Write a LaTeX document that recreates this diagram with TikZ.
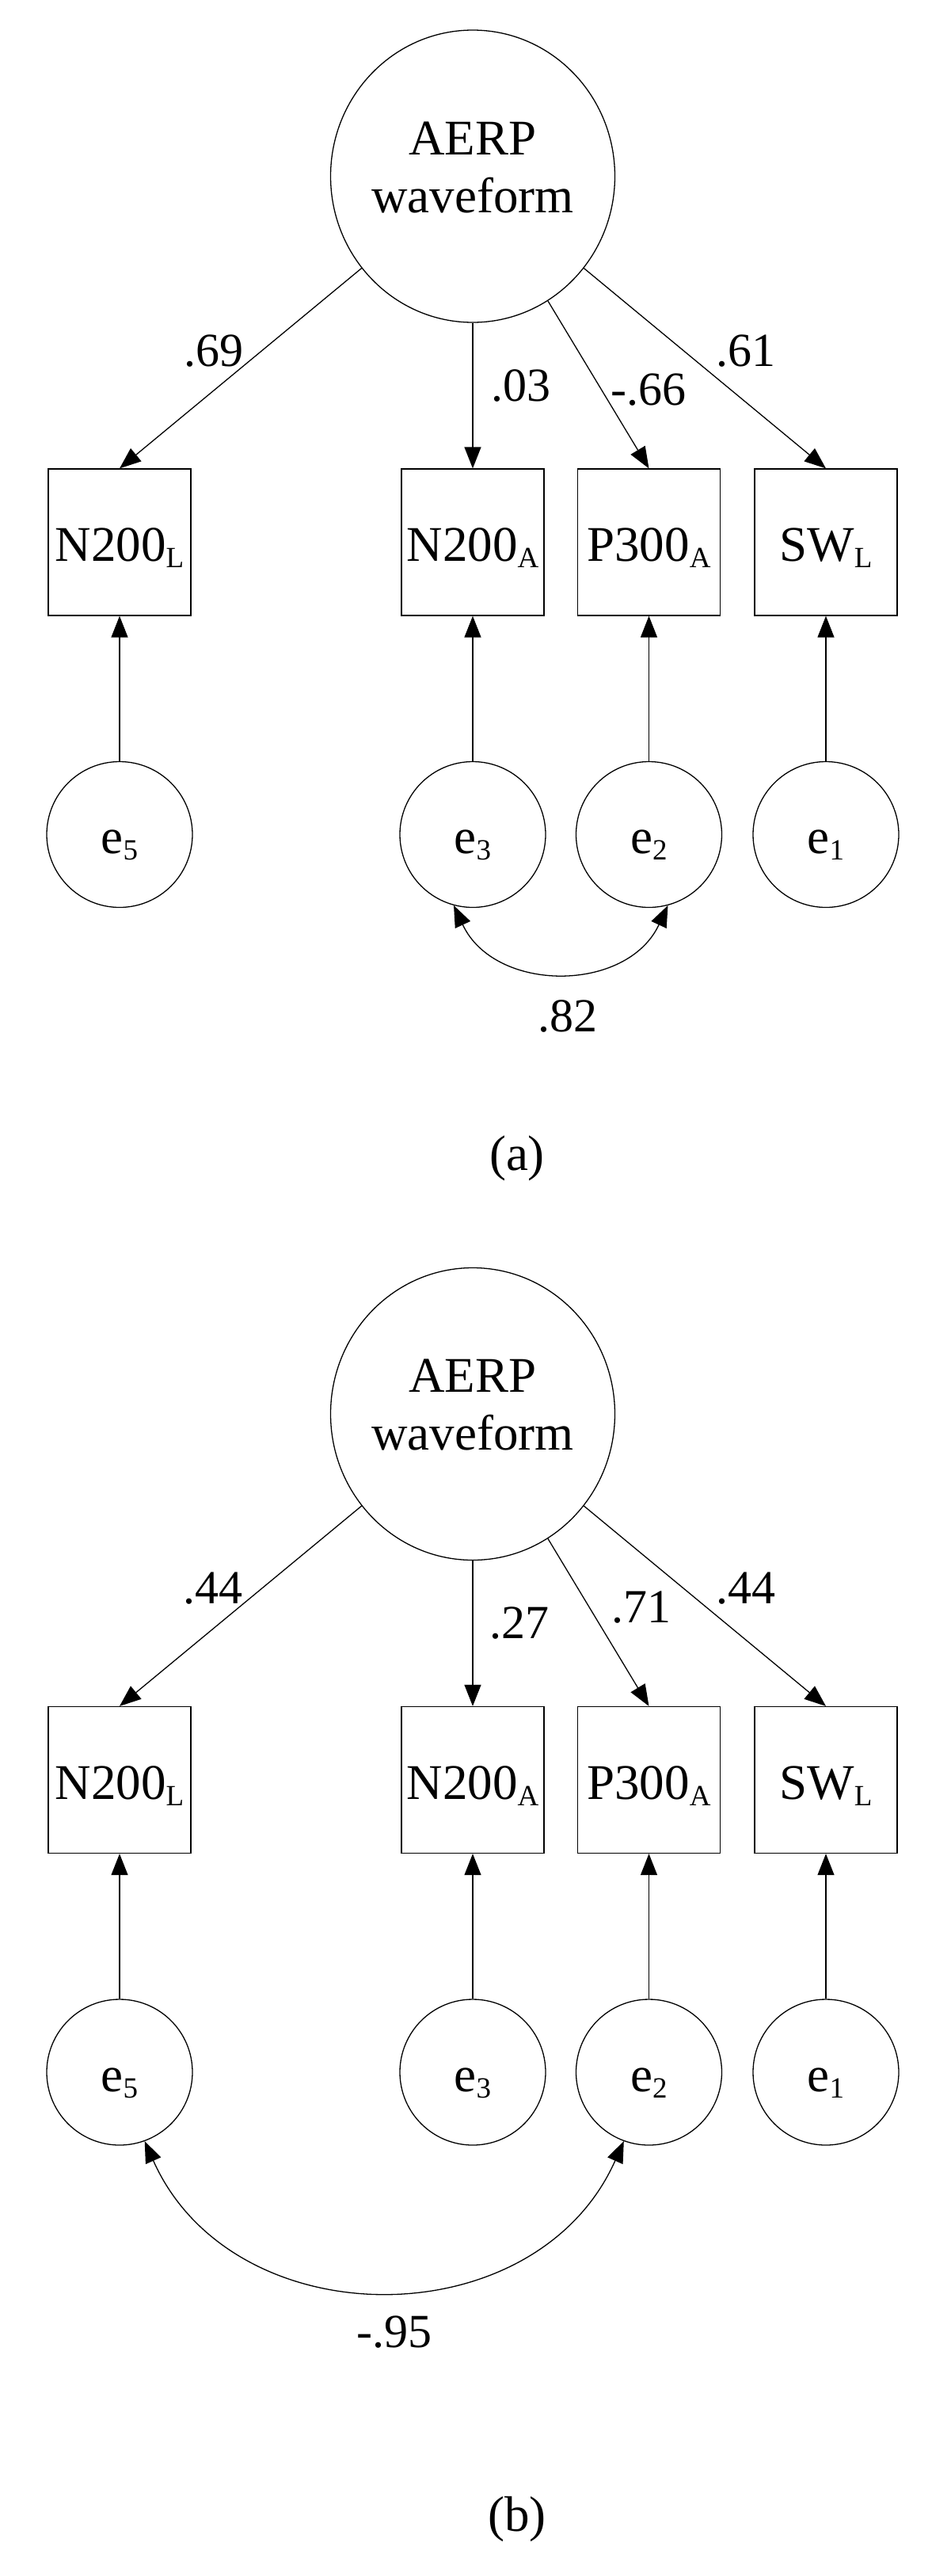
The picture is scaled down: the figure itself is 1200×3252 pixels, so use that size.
\documentclass[tikz,border=0pt]{standalone}
\usepackage{fontspec}
\setmainfont{Liberation Serif}
\usetikzlibrary{arrows.meta,shapes.geometric}
\newcommand{\sbs}[1]{\raisebox{-8pt}{\fontsize{37}{37}\selectfont #1}}
\begin{document}
\begin{tikzpicture}[x=1pt,y=1pt,
  line width=1.3pt,
  txt/.style={font=\fontsize{63}{63}\selectfont, anchor=base, inner sep=0pt},
  lbl/.style={font=\fontsize{60}{60}\selectfont, anchor=base, inner sep=0pt},
  latent/.style={draw, ellipse, minimum width=359pt, minimum height=369pt, inner sep=0pt},
  obs/.style={draw, rectangle, minimum width=180pt, minimum height=185pt, inner sep=0pt,
              text height=48pt, text depth=0pt, font=\fontsize{63}{63}\selectfont},
  err/.style={draw, circle, minimum size=184pt, inner sep=0pt,
              text height=48pt, text depth=0pt, font=\fontsize{63}{63}\selectfont},
  load/.style={-{Triangle[length=27pt,width=21pt]}},
  cov/.style={{Triangle[length=27pt,width=21pt]}-{Triangle[length=27pt,width=21pt]}, looseness=1.16},
]
\path[use as bounding box, fill=white] (0,0) rectangle (1200,-3252);

% ---------- (a) ----------
\node[latent] (A) at (597,-222.5) {};
\node[txt] (Aa1) at ([yshift=27.5pt]A.center) {AERP};
\node[txt] (Aa2) at ([yshift=-45.5pt]A.center) {waveform};

\node[obs] (N5) at (151,-684.5) {N200\sbs{L}};
\node[obs] (N3) at (597,-684.5) {N200\sbs{A}};
\node[obs] (P2) at (819.5,-684.5) {P300\sbs{A}};
\node[obs] (S1) at (1043,-684.5) {SW\sbs{L}};

\node[err] (e5) at (151,-1053.5) {e\sbs{5}};
\node[err] (e3) at (597,-1053.5) {e\sbs{3}};
\node[err] (e2) at (819.5,-1053.5) {e\sbs{2}};
\node[err] (e1) at (1043,-1053.5) {e\sbs{1}};

\draw[load] (A) -- (N5.north);
\draw[load] (A) -- (N3.north);
\draw[load] (A) -- (P2.north);
\draw[load] (A) -- (S1.north);
\draw[load] (e5) -- (N5);
\draw[load] (e3) -- (N3);
\draw[load] (e2) -- (P2);
\draw[load] (e1) -- (S1);
\draw[cov] (e3.255) to[out=-65,in=-115] (e2.285);

\node[lbl] (la1) at (270,-462) {.69};
\node[lbl] (la2) at (658,-506) {.03};
\node[lbl] (la3) at (819,-511) {-.66};
\node[lbl] (la4) at (942,-462) {.61};
\node[lbl] (la5) at (717,-1302) {.82};
\node[txt] (capa) at (653,-1477) {(a)};

% ---------- (b) ----------
\node[latent] (B) at (597,-1785) {};
\node[txt] (Bb1) at ([yshift=27.5pt]B.center) {AERP};
\node[txt] (Bb2) at ([yshift=-45.5pt]B.center) {waveform};

\node[obs] (bN5) at (151,-2247) {N200\sbs{L}};
\node[obs] (bN3) at (597,-2247) {N200\sbs{A}};
\node[obs] (bP2) at (819.5,-2247) {P300\sbs{A}};
\node[obs] (bS1) at (1043,-2247) {SW\sbs{L}};

\node[err] (be5) at (151,-2616) {e\sbs{5}};
\node[err] (be3) at (597,-2616) {e\sbs{3}};
\node[err] (be2) at (819.5,-2616) {e\sbs{2}};
\node[err] (be1) at (1043,-2616) {e\sbs{1}};

\draw[load] (B) -- (bN5.north);
\draw[load] (B) -- (bN3.north);
\draw[load] (B) -- (bP2.north);
\draw[load] (B) -- (bS1.north);
\draw[load] (be5) -- (bN5);
\draw[load] (be3) -- (bN3);
\draw[load] (be2) -- (bP2);
\draw[load] (be1) -- (bS1);
\draw[cov] (be5.290) to[out=-66,in=-114] (be2.250);

\node[lbl] (lb1) at (269,-2024) {.44};
\node[lbl] (lb2) at (656,-2068) {.27};
\node[lbl] (lb3) at (810,-2048) {.71};
\node[lbl] (lb4) at (942,-2024) {.44};
\node[lbl] (lb5) at (498,-2963) {-.95};
\node[txt] (capb) at (653,-3195) {(b)};
\end{tikzpicture}
\end{document}
